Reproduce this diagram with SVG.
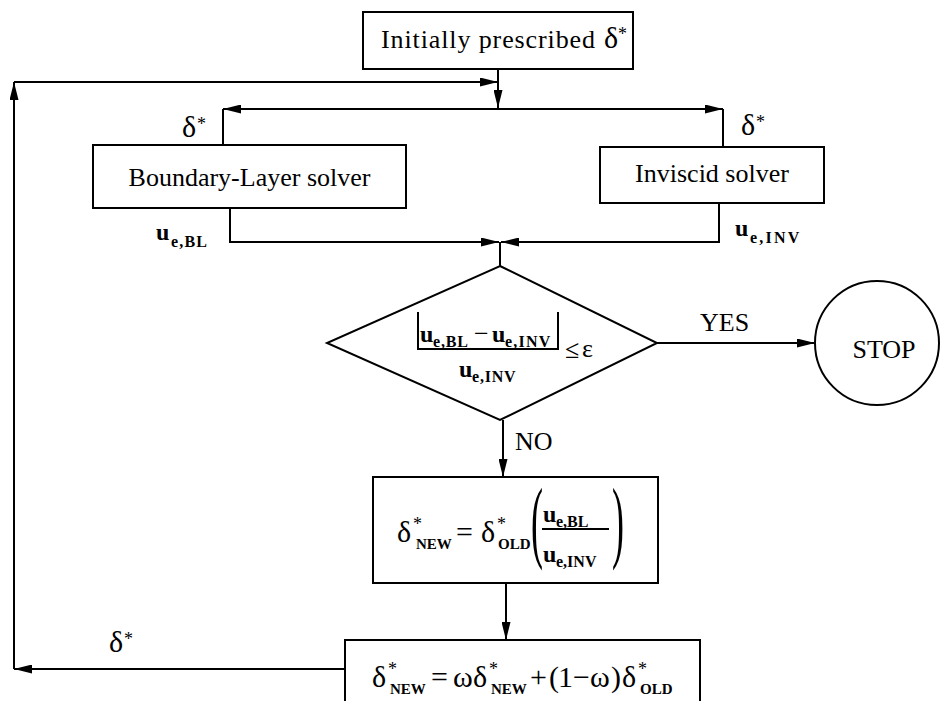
<svg xmlns="http://www.w3.org/2000/svg" width="940" height="701" viewBox="0 0 940 701">
<defs>
<marker id="ah" markerWidth="18" markerHeight="9" refX="18" refY="4.5" orient="auto" markerUnits="userSpaceOnUse">
<path d="M0,0 L18,4.5 L0,9 z" fill="#000"/>
</marker>
<style>
.box{fill:#fff;stroke:#000;stroke-width:2}
.ln{fill:none;stroke:#000;stroke-width:2}
.arr{fill:none;stroke:#000;stroke-width:2;marker-end:url(#ah)}
text{font-family:"Liberation Serif","Times New Roman",serif;fill:#000}
.t{font-size:26px}
.g{font-size:30px}
.st{font-size:18px}
.sb{font-size:15px;font-weight:bold}
.u{font-size:24px;font-weight:bold}
.us{font-size:16px;font-weight:bold}
</style>
</defs>
<rect width="940" height="701" fill="#fff"/>

<g id="connectors">
<path class="arr" d="M498,69 V108"/>
<path class="arr" d="M345,669 H14"/>
<path class="arr" d="M14,669 V82"/>
<path class="arr" d="M14,82 H498"/>
<path class="arr" d="M498,109 H223"/>
<path class="ln" d="M223,109 V145"/>
<path class="arr" d="M498,109 H723"/>
<path class="ln" d="M723,109 V147"/>
<path class="arr" d="M230,208 V242 H499"/>
<path class="arr" d="M719,203 V242 H501"/>
<path class="ln" d="M500,242 V266"/>
<path class="arr" d="M657,343 H815"/>
<path class="arr" d="M503,420 V477"/>
<path class="arr" d="M506,583 V640"/>
<text class="t" x="700" y="331" font-size="25">YES</text>
<text class="t" x="515" y="450" font-size="25">NO</text>
<text class="g" x="182" y="137" font-size="26">δ</text><text class="st" x="197" y="130">*</text>
<text class="g" x="741" y="135" font-size="26">δ</text><text class="st" x="756" y="128">*</text>
<text class="g" x="109" y="652" font-size="26">δ</text><text class="st" x="124" y="645">*</text>
<text class="u" x="156" y="240">u</text><text class="us" x="171" y="247" font-size="17" letter-spacing="1.2">e,BL</text>
<text class="u" x="735" y="236">u</text><text class="us" x="750" y="243" font-size="17" letter-spacing="2.2">e,INV</text>
</g>

<g id="start">
<rect class="box" x="363" y="12" width="270" height="57"/>
<text class="t" x="381" y="48" textLength="214" lengthAdjust="spacing">Initially prescribed</text>
<text class="g" x="604" y="48" font-size="27">δ</text><text class="st" x="618" y="40">*</text>
</g>

<g id="bl-solver">
<rect class="box" x="93" y="145" width="313" height="63"/>
<text class="t" x="249.5" y="186" text-anchor="middle">Boundary-Layer solver</text>
</g>

<g id="inv-solver">
<rect class="box" x="600" y="147" width="224" height="56"/>
<text class="t" x="712" y="182" text-anchor="middle" font-size="27">Inviscid solver</text>
</g>

<g id="check">
<polygon class="box" points="500,266 657,343 500,420 327,343"/>
<path class="ln" d="M418,312 V349 H558 V312"/>
<text class="u" x="420" y="342">u</text><text class="us" x="433" y="347" letter-spacing="0.8">e,BL</text>
<text class="t" x="474" y="342" font-size="24">−</text>
<text class="u" x="492" y="342">u</text><text class="us" x="505" y="347" letter-spacing="1.2">e,INV</text>
<text class="u" x="459" y="377">u</text><text class="us" x="472" y="382" letter-spacing="0.8">e,INV</text>
<text class="t" x="565" y="358" font-size="28">≤</text>
<text class="t" x="582" y="357" font-size="30">ε</text>
</g>

<g id="stop">
<circle class="box" cx="877" cy="343" r="62"/>
<text class="t" x="884" y="358" text-anchor="middle">STOP</text>
</g>

<g id="update">
<rect class="box" x="373" y="477" width="285" height="106"/>
<text class="g" x="397" y="542">δ</text><text class="st" x="413" y="530">*</text>
<text class="sb" x="416" y="549">NEW</text>
<text class="g" x="456" y="542">=</text>
<text class="g" x="481" y="542">δ</text><text class="st" x="497" y="530">*</text>
<text class="sb" x="498" y="549" font-size="13">OLD</text>
<text transform="translate(531,551) scale(0.4,1)" font-size="90">(</text>
<text class="u" x="543" y="522">u</text><text class="us" x="556" y="527" font-size="14">e,BL</text>
<path class="ln" d="M542,529 H609" stroke-width="1.5"/>
<text class="u" x="543" y="562">u</text><text class="us" x="556" y="567" font-size="14">e,INV</text>
<text transform="translate(612,551) scale(0.4,1)" font-size="90">)</text>
</g>

<g id="relax">
<rect class="box" x="345" y="640" width="355" height="75"/>
<text class="g" x="372" y="687">δ</text><text class="st" x="388" y="675">*</text>
<text class="sb" x="390" y="694">NEW</text>
<text class="g" x="431" y="687">=</text>
<text class="g" x="453" y="687">ω</text>
<text class="g" x="473" y="687">δ</text><text class="st" x="489" y="675">*</text>
<text class="sb" x="491" y="694">NEW</text>
<text class="g" x="530" y="687" font-size="28">+</text>
<text class="g" x="549" y="687" font-size="28">(</text>
<text class="g" x="558" y="687" font-size="28">1</text>
<text class="g" x="573" y="687" font-size="28">−</text>
<text class="g" x="590" y="687" font-size="28">ω</text>
<text class="g" x="611" y="687" font-size="28">)</text>
<text class="g" x="622" y="687">δ</text><text class="st" x="638" y="675">*</text>
<text class="sb" x="640" y="694">OLD</text>
</g>
</svg>
